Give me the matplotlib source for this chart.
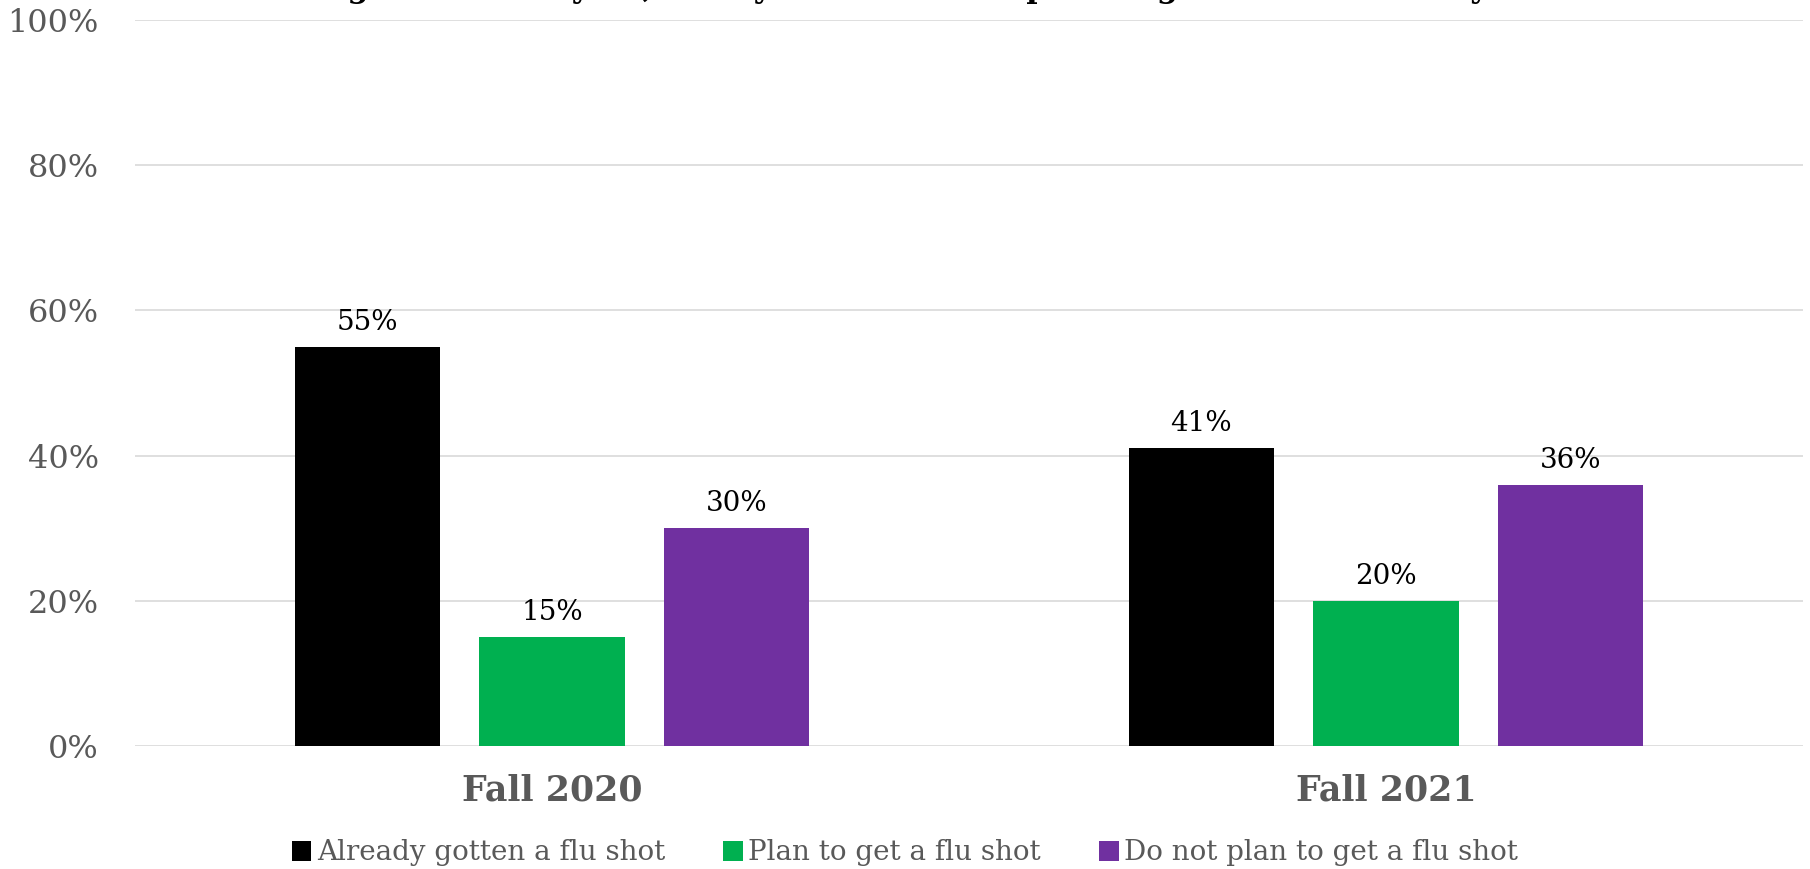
import matplotlib
matplotlib.use("Agg")
import matplotlib.pyplot as plt
import numpy as np
from matplotlib.patches import Patch
from matplotlib.ticker import FuncFormatter

# survey waves and response shares (%)
periods = ["Fall 2020", "Fall 2021"]
responses = ["Already gotten a flu shot", "Plan to get a flu shot", "Do not plan to get a flu shot"]
already = [55, 41]
plan = [15, 20]
not_plan = [30, 36]
colors = ["#000000", "#00B050", "#7030A0"]
title = "Among adults this year, have you received or plan to get a flu shot this year?"

SERIF = "DejaVu Serif"
GREY = "#595959"

fig = plt.figure(figsize=(18.10, 8.69), dpi=100)
ax = fig.add_axes([135 / 1810, 1 - 746 / 869, 1668 / 1810, 726 / 869])

x = np.arange(len(periods))
step = 0.2218
width = 0.1739
for i, (vals, color) in enumerate(zip([already, plan, not_plan], colors)):
    bars = ax.bar(x + (i - 1) * step, vals, width=width, color=color, zorder=3)
    for b, v in zip(bars, vals):
        ax.annotate(f"{v}%", (b.get_x() + b.get_width() / 2, v), xytext=(0, 8),
                    textcoords="offset points", ha="center", va="bottom",
                    fontsize=20, family=SERIF, color="black")

ax.set_xlim(-0.5, 1.5)
ax.set_ylim(0, 100)
ax.set_yticks(range(0, 101, 20))
ax.yaxis.set_major_formatter(FuncFormatter(lambda v, _: f"{v:.0f}%"))
ax.grid(axis="y", color="#D9D9D9", linewidth=1.2, zorder=0)
for s in ax.spines.values():
    s.set_visible(False)
ax.tick_params(axis="both", length=0)
ax.tick_params(axis="y", pad=26, labelsize=23, labelcolor=GREY)
for lbl in ax.get_yticklabels():
    lbl.set_family(SERIF)

ax.set_xticks(x)
ax.set_xticklabels(periods, fontsize=25, fontweight="bold", color=GREY, family=SERIF)
ax.tick_params(axis="x", pad=20)

handles = [Patch(facecolor=c, edgecolor="none") for c in colors]
leg = fig.legend(handles, responses, loc="center", bbox_to_anchor=(0.5, 1 - 853 / 869),
                 ncol=3, frameon=False, handlelength=0.7, handleheight=0.7,
                 handletextpad=0.2, columnspacing=2.1,
                 prop={"family": SERIF, "size": 20})
for t in leg.get_texts():
    t.set_color(GREY)

# title sits above the canvas edge; only the descenders show
fig.text(0.5, 1 + 3 / 869, title, ha="center", va="baseline",
         fontsize=22, fontweight="bold", family=SERIF, color="black")

fig.savefig("out.png", dpi=100)
